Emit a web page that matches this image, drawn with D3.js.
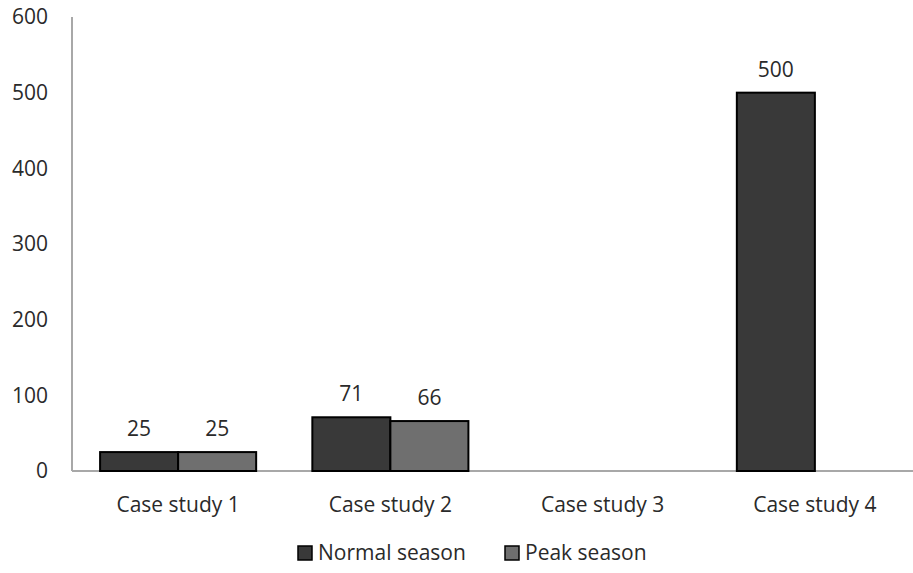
<!DOCTYPE html>
<meta charset="utf-8">
<html>
<head>
<script src="https://d3js.org/d3.v7.min.js"></script>
<style>
  body { margin: 0; background: #fff; }
  text { font-family: "Open Sans", sans-serif; fill: #2a2a2a; }
</style>
</head>
<body>
<svg width="913" height="573"></svg>
<script>

var categories = ["Case study 1", "Case study 2", "Case study 3", "Case study 4"];
var seriesNames = ["Normal season", "Peak season"];
var normalSeason = [25, 71, null, 500];
var peakSeason = [25, 66, null, null];
var yTicks = [0, 100, 200, 300, 400, 500, 600];
var colors = ["#393939", "#6f6f6f"];

var svg = d3.select("svg"),
    margin = {top: 17, left: 72, bottom: 102},
    width = +svg.attr("width"),
    height = +svg.attr("height");

var x0 = d3.scaleBand()
    .domain(categories)
    .range([margin.left, 921])
    .paddingInner(0)
    .paddingOuter(0);

var x1 = d3.scaleBand()
    .domain(seriesNames)
    .range([0, x0.bandwidth()])
    .paddingInner(0)
    .paddingOuter(0.36);

var y = d3.scaleLinear()
    .domain([0, 600])
    .range([471, margin.top]);

var rows = categories.map(function(c, i) {
  return {cat: c, values: [normalSeason[i], peakSeason[i]]};
});

// axes
svg.append("line")
    .attr("x1", margin.left).attr("x2", margin.left)
    .attr("y1", y(600)).attr("y2", y(0))
    .attr("stroke", "#a8a8a8").attr("stroke-width", 2);

svg.append("line")
    .attr("x1", margin.left).attr("x2", width)
    .attr("y1", y(0)).attr("y2", y(0))
    .attr("stroke", "#a8a8a8").attr("stroke-width", 2);

svg.append("g").selectAll("text")
    .data(yTicks)
    .enter().append("text")
      .attr("x", 48)
      .attr("y", function(d) { return y(d); })
      .attr("dy", "0.35em")
      .attr("text-anchor", "end")
      .style("font-size", "21px")
      .text(function(d) { return d; });

// bars
var groups = svg.append("g").selectAll("g")
    .data(rows)
    .enter().append("g")
      .attr("transform", function(d) { return "translate(" + x0(d.cat) + ",0)"; });

var cells = groups.selectAll("g")
    .data(function(d) {
      return d.values.map(function(v, i) { return {key: seriesNames[i], value: v, i: i}; })
        .filter(function(e) { return e.value != null; });
    })
    .enter().append("g");

cells.append("rect")
    .attr("x", function(d) { return x1(d.key); })
    .attr("width", x1.bandwidth())
    .attr("y", function(d) { return y(d.value); })
    .attr("height", function(d) { return y(0) - y(d.value); })
    .attr("fill", function(d) { return colors[d.i]; })
    .attr("stroke", "#000")
    .attr("stroke-width", 2);

cells.append("text")
    .attr("x", function(d) { return x1(d.key) + x1.bandwidth() / 2; })
    .attr("y", function(d) { return y(d.value) - 16; })
    .attr("text-anchor", "middle")
    .style("font-size", "21px")
    .text(function(d) { return d.value; });

// category labels
svg.append("g").selectAll("text")
    .data(categories)
    .enter().append("text")
      .attr("x", function(d) { return x0(d) + x0.bandwidth() / 2; })
      .attr("y", 512)
      .attr("text-anchor", "middle")
      .style("font-size", "21px")
      .text(function(d) { return d; });

// legend
var legendX = [298, 505];
var legend = svg.append("g").selectAll("g")
    .data(seriesNames)
    .enter().append("g")
      .attr("transform", function(d, i) { return "translate(" + legendX[i] + ",546)"; });

legend.append("rect")
    .attr("width", 14).attr("height", 14)
    .attr("fill", function(d, i) { return colors[i]; })
    .attr("stroke", "#000").attr("stroke-width", 1.5);

legend.append("text")
    .attr("x", 20)
    .attr("y", 7)
    .attr("dy", "0.35em")
    .style("font-size", "21px")
    .text(function(d) { return d; });

</script>
</body>
</html>
